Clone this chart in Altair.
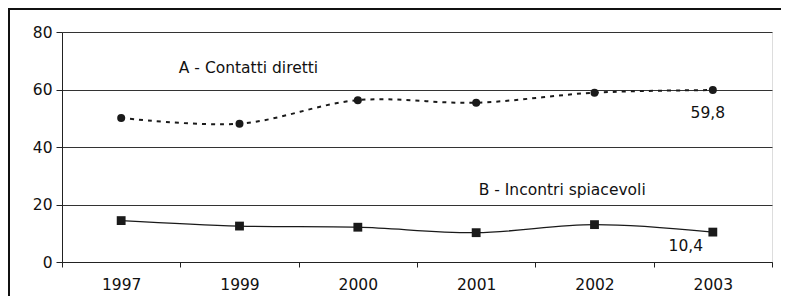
import altair as alt
import pandas as pd

years = ["1997", "1999", "2000", "2001", "2002", "2003"]
a_vals = [50.1, 48.1, 56.3, 55.4, 58.9, 59.8]
b_vals = [14.4, 12.5, 12.1, 10.2, 13.0, 10.4]

ann_text = ["A - Contatti diretti", "B - Incontri spiacevoli", "59,8", "10,4"]
ann_year = ["1999", "2001", "2003", "2003"]
ann_val = [67.5, 25.0, 51.8, 5.5]
ann_dx = [9, 86, -5, -27]

FONT = "DejaVu Sans"
FS = 15.5

dfa = pd.DataFrame({"year": years, "value": a_vals})
dfb = pd.DataFrame({"year": years, "value": b_vals})

xenc = alt.X(
    "year:N", sort=years, bandPosition=0.5,
    scale=alt.Scale(type="band", paddingInner=0, paddingOuter=0),
    axis=alt.Axis(title=None, tickBand="extent", grid=False, labelAngle=0,
                  tickSize=5, labelPadding=10, domainColor="#222", tickColor="#222",
                  labelFont=FONT, labelFontSize=FS, labelColor="#111"),
)
yenc = alt.Y(
    "value:Q",
    scale=alt.Scale(domain=[0, 80], nice=False, zero=True),
    axis=alt.Axis(title=None, values=[0, 20, 40, 60, 80], grid=True, gridColor="#333",
                  gridWidth=1, tickSize=6, labelPadding=4, domainColor="#222",
                  tickColor="#222", labelFont=FONT, labelFontSize=FS, labelColor="#111"),
)

line_a = alt.Chart(dfa).mark_line(interpolate="catmull-rom", color="#1a1a1a",
                                  strokeDash=[4, 5], strokeWidth=2).encode(x=xenc, y=yenc)
pts_a = alt.Chart(dfa).mark_point(shape="circle", filled=True, color="#1a1a1a",
                                  size=64, opacity=1).encode(x=xenc, y=yenc)
line_b = alt.Chart(dfb).mark_line(interpolate="catmull-rom", color="#1a1a1a",
                                  strokeWidth=1.3).encode(x=xenc, y=yenc)
pts_b = alt.Chart(dfb).mark_point(shape="square", filled=True, color="#1a1a1a",
                                  size=78, opacity=1).encode(x=xenc, y=yenc)

text_layers = []
for t, yr, v, dx in zip(ann_text, ann_year, ann_val, ann_dx):
    d = pd.DataFrame({"text": [t], "year": [yr], "value": [v]})
    text_layers.append(
        alt.Chart(d).mark_text(font=FONT, fontSize=FS, color="#111", dx=dx).encode(
            x=xenc, y=yenc, text="text:N")
    )

frame_left = alt.Chart(dfa).mark_rule(color="#111", strokeWidth=2).encode(
    x=alt.value(-53), y=alt.value(-24), y2=alt.value(280))
frame_top = alt.Chart(dfa).mark_rule(color="#111", strokeWidth=2).encode(
    y=alt.value(-23), x=alt.value(-54), x2=alt.value(730))

chart = alt.layer(line_a, pts_a, line_b, pts_b, *text_layers, frame_left, frame_top).properties(
    width=710, height=230,
    autosize=alt.AutoSizeParams(type="none"),
    padding={"left": 54, "top": 24, "right": 9, "bottom": 34},
).configure_view(
    fill="#dcdde0", stroke="#333", strokeWidth=1
).configure(background="white")

chart.save("out.html", embed_options={"renderer": "svg", "actions": False})
